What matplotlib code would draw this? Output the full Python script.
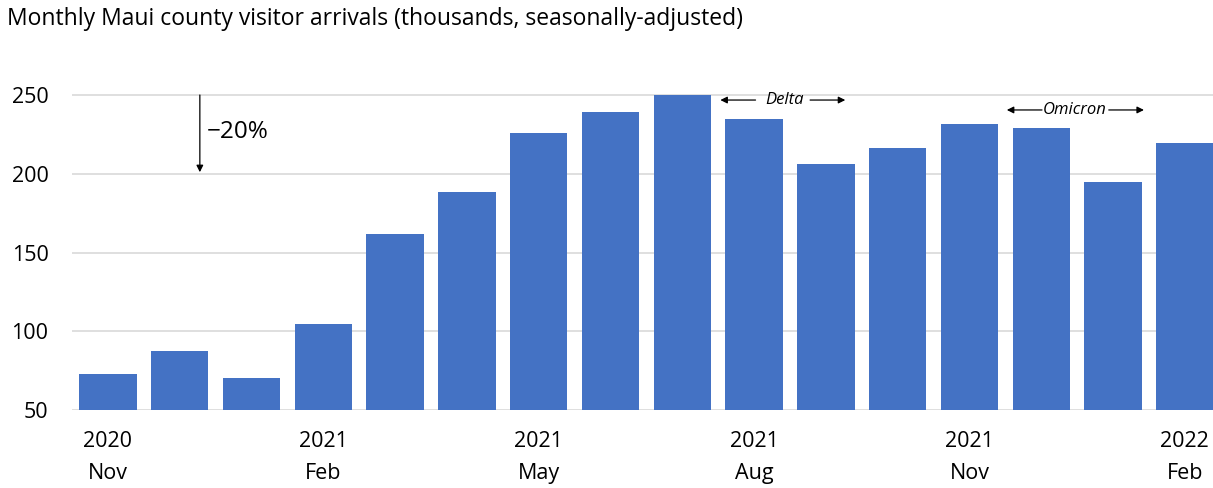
import matplotlib.pyplot as plt
import numpy as np

months = ["Nov", "Dec", "Jan", "Feb", "Mar", "Apr", "May", "Jun",
          "Jul", "Aug", "Sep", "Oct", "Nov", "Dec", "Jan", "Feb"]
years = [2020, 2020, 2021, 2021, 2021, 2021, 2021, 2021,
         2021, 2021, 2021, 2021, 2021, 2021, 2022, 2022]
arrivals = [73, 87.5, 70.5, 104.5, 161.5, 188.5, 226, 239.5,
            250, 235, 206, 216.5, 231.5, 229, 195, 219.5]
label_idx = [0, 3, 6, 9, 12, 15]

plt.rcParams['font.family'] = ['Open Sans', 'DejaVu Sans']

fig = plt.figure(figsize=(12.13, 4.88), dpi=100)
ax = fig.add_axes([0.0594, 0.1598, 0.947, 0.6778])

x = np.arange(len(arrivals))
ax.bar(x, arrivals, width=0.8, color='#4472C4', zorder=2)

ax.set_xlim(-0.5, len(arrivals) - 0.5)
ax.set_ylim(50, 260)
ax.set_yticks([50, 100, 150, 200, 250])
ax.yaxis.grid(True, color='#d9d9d9', linewidth=1.2, zorder=0)
ax.set_xticks([x[i] for i in label_idx])
ax.set_xticklabels([f"{years[i]}\n{months[i]}" for i in label_idx],
                   linespacing=1.7)
ax.tick_params(axis='both', length=0, labelsize=15.5)
ax.tick_params(axis='x', pad=15)
ax.tick_params(axis='y', pad=17)
for s in ax.spines.values():
    s.set_visible(False)

fig.text(0.006, 0.962, "Monthly Maui county visitor arrivals (thousands, seasonally-adjusted)",
         fontsize=16.5, va='center', ha='left')

# peak-to-trough marker
ax.annotate("", xy=(1.28, 201), xytext=(1.28, 250),
            arrowprops=dict(arrowstyle='-|>', color='black', lw=0.9,
                            mutation_scale=10, shrinkA=0, shrinkB=0))
ax.text(1.37, 226.5, "\u221220%", fontsize=17.5, va='center', ha='left')

# variant waves
arrow_kw = dict(arrowstyle='-|>', color='black', lw=0.9, mutation_scale=10,
                shrinkA=0, shrinkB=0)
ax.text(9.43, 246.8, "Delta", fontsize=12, style='italic', ha='center', va='center')
ax.annotate("", xy=(8.53, 246.8), xytext=(9.02, 246.8), arrowprops=arrow_kw)
ax.annotate("", xy=(10.27, 246.8), xytext=(9.78, 246.8), arrowprops=arrow_kw)

ax.text(13.47, 240.5, "Omicron", fontsize=12, style='italic', ha='center', va='center')
ax.annotate("", xy=(12.52, 240.5), xytext=(13.01, 240.5), arrowprops=arrow_kw)
ax.annotate("", xy=(14.43, 240.5), xytext=(13.94, 240.5), arrowprops=arrow_kw)

fig.savefig("out.png", dpi=100)
